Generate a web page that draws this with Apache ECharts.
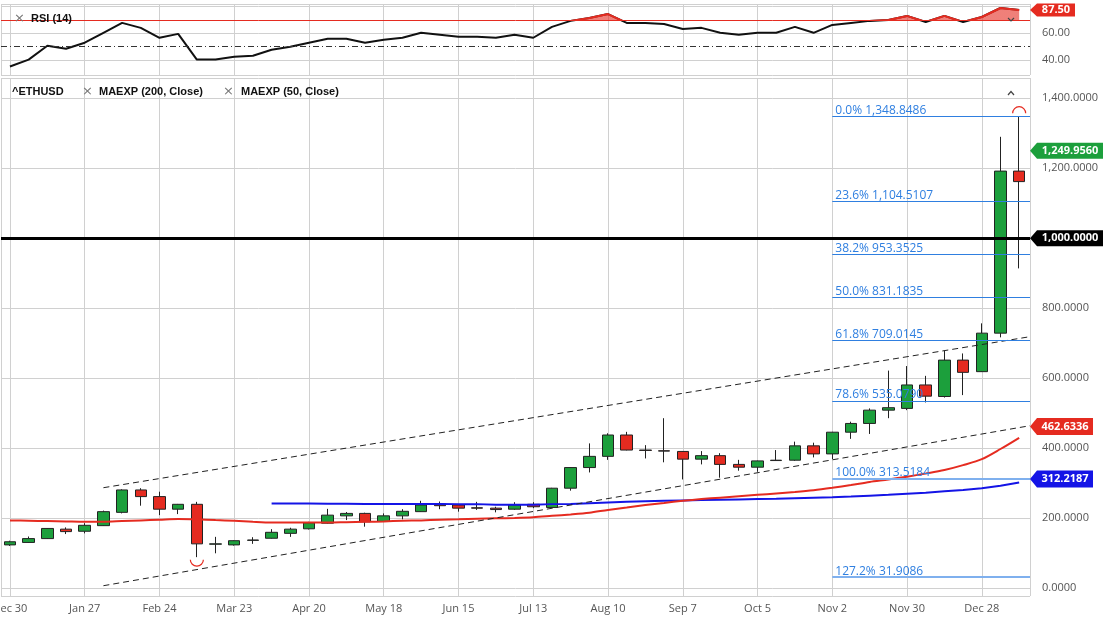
<!DOCTYPE html>
<html>
<head>
<meta charset="utf-8">
<script src="https://cdn.jsdelivr.net/npm/echarts@6/dist/echarts.min.js"></script>
<style>
  html, body { margin: 0; padding: 0; background: #fff; }
  #chart { width: 1107px; height: 627px; }
</style>
</head>
<body>
<div id="chart"></div>
<script>
// weekly ETH candles, Dec 30 2019 .. Jan 11 2021
var weeks = ['Dec 30', 'Jan 6', 'Jan 13', 'Jan 20', 'Jan 27', 'Feb 3', 'Feb 10', 'Feb 17', 'Feb 24', 'Mar 2',
  'Mar 9', 'Mar 16', 'Mar 23', 'Mar 30', 'Apr 6', 'Apr 13', 'Apr 20', 'Apr 27', 'May 4', 'May 11',
  'May 18', 'May 25', 'Jun 1', 'Jun 8', 'Jun 15', 'Jun 22', 'Jun 29', 'Jul 6', 'Jul 13', 'Jul 20',
  'Jul 27', 'Aug 3', 'Aug 10', 'Aug 17', 'Aug 24', 'Aug 31', 'Sep 7', 'Sep 14', 'Sep 21', 'Sep 28',
  'Oct 5', 'Oct 12', 'Oct 19', 'Oct 26', 'Nov 2', 'Nov 9', 'Nov 16', 'Nov 23', 'Nov 30', 'Dec 7',
  'Dec 14', 'Dec 21', 'Dec 28', 'Jan 4', 'Jan 11'];

var openPrices = [124, 131, 142, 169, 163, 179, 217, 281, 262, 226,
  240, 126, 124, 137, 143, 157, 170, 186, 207, 214,
  191, 207, 219, 241, 238, 230, 229, 226, 240, 231,
  286, 345, 377, 438, 395, 393, 391, 369, 379, 354,
  346, 365, 366, 407, 384, 446, 471, 509, 514, 581,
  548, 652, 619, 729, 1192];
var closePrices = [133, 142, 171, 162, 180, 219, 281, 262, 226, 240,
  127, 127, 136, 138, 160, 169, 187, 209, 214, 190,
  207, 220, 238, 236, 229, 229, 225, 238, 233, 286,
  345, 377, 438, 395, 394, 392, 369, 379, 354, 346,
  364, 366, 407, 384, 446, 471, 509, 516, 581, 549,
  652, 617, 729, 1192, 1162];
var lowPrices = [121, 130, 141, 155, 157, 178, 214, 236, 209, 212,
  89, 100, 122, 127, 142, 147, 168, 185, 195, 176,
  190, 197, 218, 226, 219, 224, 217, 224, 229, 230,
  279, 331, 367, 394, 371, 360, 311, 354, 316, 336,
  333, 364, 364, 374, 369, 427, 441, 486, 509, 531,
  545, 552, 618, 717, 914];
var highPrices = [136, 148, 172, 174, 186, 222, 283, 286, 276, 241,
  247, 147, 137, 146, 169, 173, 190, 227, 218, 216,
  214, 226, 250, 248, 239, 247, 233, 246, 246, 287,
  346, 414, 443, 447, 409, 486, 392, 392, 386, 367,
  365, 395, 419, 416, 447, 476, 514, 622, 635, 607,
  679, 671, 757, 1290, 1348.85];

var rsiValues = [35.2, 40.4, 50.7, 48.5, 53.0, 60.4, 67.8, 64.1, 56.7, 59.6,
  40.4, 40.4, 42.6, 43.3, 47.8, 50.0, 53.0, 55.9, 55.9, 53.0,
  55.2, 56.7, 60.4, 58.9, 57.4, 57.4, 56.7, 58.9, 56.7, 64.8,
  69.3, 71.5, 74.4, 67.8, 67.8, 67.0, 63.3, 64.1, 60.4, 58.9,
  60.4, 60.4, 64.8, 60.4, 66.3, 67.8, 69.3, 70.0, 73.0, 68.5,
  73.0, 68.5, 72.2, 78.9, 77.4];

var ema50 = [194, 193, 192, 191, 190, 190, 192, 194, 196, 198,
  197, 195, 193, 190, 188, 188, 188, 188, 189, 190,
  191, 193, 194, 196, 197, 199, 200, 201, 203, 207,
  211, 216, 224, 231, 238, 244, 250, 255, 259, 263,
  267, 271, 275, 280, 287, 295, 304, 311, 319, 328,
  338, 352, 369, 398, 430];

var ema200Start = 14;
var ema200 = [242, 242, 242, 241.5, 241.5, 241, 241, 241, 241, 241,
  240.5, 240.5, 239, 239, 239, 240.5, 241, 243, 245, 247,
  248.5, 250, 251, 252, 253, 254, 255, 256, 257.5, 259,
  260, 262, 264.5, 267, 270, 273, 277, 281, 286, 293, 302];

// trend channel: value at start week and at right edge
var channelStart = 5;
var upperChannel = [287.4, 718.9];
var lowerChannel = [7.4, 464.6];

var fibStart = 44;
var fibLevels = ['0.0%', '23.6%', '38.2%', '50.0%', '61.8%', '78.6%', '100.0%', '127.2%'];
var fibPrices = [1348.8486, 1104.5107, 953.3525, 831.1835, 709.0145, 535.0790, 313.5184, 31.9086];

var roundLevel = 1000;
var lastPrice = 1249.9560;
var ma50Tag = 462.6336;
var ma200Tag = 312.2187;
var rsiTag = 87.50;

var xMin = -0.48, xMax = 54.58;
var GREEN = '#1c9f3c', RED = '#e52b20', BLUE = '#1414e6', FIB = '#2f7fe0';

function fmt4(v) {
  return v.toLocaleString('en-US', { minimumFractionDigits: 4, maximumFractionDigits: 4 });
}

var candles = weeks.map(function (w, i) {
  return [i, openPrices[i], closePrices[i], lowPrices[i], highPrices[i]];
});

var fibLines = fibPrices.map(function (p, k) {
  var thick = k >= 6;
  return [
    { name: fibLevels[k] + ' ' + fmt4(p), coord: [fibStart, p],
      lineStyle: { color: thick ? '#7fb0ee' : FIB, width: thick ? 2 : 1, type: 'solid' } },
    { coord: [xMax, p] }
  ];
});
fibLines.push({ yAxis: roundLevel, label: { show: false },
  lineStyle: { color: '#000', width: 3, type: 'solid' } });

var gridLine = { show: true, lineStyle: { color: '#d0d0d0', width: 1 }, showMinLine: true, showMaxLine: true };

function xAxisFor(gi, labels) {
  return {
    type: 'value', gridIndex: gi, min: xMin, max: xMax,
    minInterval: 4, maxInterval: 4, splitNumber: 14,
    axisLine: { show: false, onZero: false },
    axisTick: { show: false },
    splitLine: gridLine,
    axisLabel: {
      show: labels, color: '#555', fontSize: 11, fontFamily: 'Open Sans', margin: 7,
      showMinLabel: false, showMaxLabel: false,
      formatter: function (v) { return Number.isInteger(v) && weeks[v] ? weeks[v] : ''; }
    }
  };
}

var chart = echarts.init(document.getElementById('chart'));
chart.setOption({
  animation: false,
  backgroundColor: '#fff',
  textStyle: { fontFamily: 'Open Sans' },
  grid: [
    { left: 1, right: 77, top: 4, height: 71, outerBoundsMode: 'none' },
    { left: 1, right: 77, top: 78, height: 518, outerBoundsMode: 'none' }
  ],
  xAxis: [xAxisFor(0, false), xAxisFor(1, true)],
  yAxis: [
    {
      type: 'value', gridIndex: 0, position: 'right', min: 28.9, max: 81.9,
      minInterval: 20, maxInterval: 20, splitNumber: 3,
      axisLine: { show: false, onZero: false }, axisTick: { show: false },
      splitLine: gridLine,
      axisLabel: {
        color: '#555', fontSize: 11, margin: 12, showMinLabel: false, showMaxLabel: false,
        formatter: function (v) { return v >= 80 ? '' : v.toFixed(2); }
      }
    },
    {
      type: 'value', gridIndex: 1, position: 'right', min: -22, max: 1458,
      minInterval: 200, maxInterval: 200, splitNumber: 7,
      axisLine: { show: false, onZero: false }, axisTick: { show: false },
      splitLine: gridLine,
      axisLabel: {
        color: '#555', fontSize: 11, margin: 12, showMinLabel: false, showMaxLabel: false,
        formatter: function (v) { return fmt4(v); }
      }
    }
  ],
  visualMap: {
    type: 'piecewise', show: false, seriesIndex: 6, dimension: 1,
    pieces: [{ gt: 70, lte: 100, color: RED }, { gte: 0, lte: 70, color: 'rgba(229,43,32,0)' }]
  },
  series: [
    {
      type: 'candlestick', xAxisIndex: 1, yAxisIndex: 1, barWidth: 12,
      data: candles,
      itemStyle: { color: GREEN, color0: RED, borderColor: '#222', borderColor0: '#222', borderWidth: 1 },
      markLine: {
        silent: true, symbol: ['none', 'none'],
        label: { show: true, position: 'insideStartTop', formatter: '{b}', color: FIB,
          fontSize: 12, fontFamily: 'Open Sans', distance: [3, 0] },
        data: fibLines
      }
    },
    {
      type: 'line', xAxisIndex: 1, yAxisIndex: 1, symbol: 'none', z: 3,
      data: ema200.map(function (v, k) { return [ema200Start + k, v]; }),
      lineStyle: { color: BLUE, width: 2 }
    },
    {
      type: 'line', xAxisIndex: 1, yAxisIndex: 1, symbol: 'none', smooth: 0.3, z: 3,
      data: ema50.map(function (v, i) { return [i, v]; }),
      lineStyle: { color: RED, width: 2 }
    },
    {
      type: 'line', xAxisIndex: 1, yAxisIndex: 1, symbol: 'none', z: 4,
      data: [[channelStart, upperChannel[0]], [xMax, upperChannel[1]]],
      lineStyle: { color: '#222', width: 1, type: [6, 4] }
    },
    {
      type: 'line', xAxisIndex: 1, yAxisIndex: 1, symbol: 'none', z: 4,
      data: [[channelStart, lowerChannel[0]], [xMax, lowerChannel[1]]],
      lineStyle: { color: '#222', width: 1, type: [6, 4] }
    },
    {
      type: 'line', xAxisIndex: 0, yAxisIndex: 0, symbol: 'none', z: 3,
      data: rsiValues.map(function (v, i) { return [i, v]; }),
      lineStyle: { color: '#111', width: 2 },
      markLine: {
        silent: true, symbol: ['none', 'none'], label: { show: false },
        data: [
          { yAxis: 70, lineStyle: { color: RED, width: 1, type: 'solid' } },
          { yAxis: 50, lineStyle: { color: '#333', width: 1, type: [6, 3, 1, 3] } }
        ]
      }
    },
    {
      type: 'line', xAxisIndex: 0, yAxisIndex: 0, symbol: 'none', z: 4,
      data: rsiValues.map(function (v, i) { return [i, v]; }),
      lineStyle: { width: 2 },
      areaStyle: { origin: 70, opacity: 0.6 }
    }
  ]
});

// overlay: header texts, price tags, swing markers
function tag(x0, y, w, h, text, color) {
  return [
    { type: 'polygon', z: 100, shape: { points: [[x0, y], [x0 + 7, y - h / 2], [x0 + w, y - h / 2], [x0 + w, y + h / 2], [x0 + 7, y + h / 2]] },
      style: { fill: color } },
    { type: 'text', z: 101, x: x0 + 7 + (w - 7) / 2, y: y,
      style: { text: text, fill: '#fff', font: 'bold 11px "Open Sans"', textAlign: 'center', textVerticalAlign: 'middle' } }
  ];
}
function hdr(x, y, text, bold) {
  return { type: 'text', z: 100, x: x, y: y,
    style: { text: text, fill: bold ? '#111' : '#777', font: (bold ? 'bold 11px "Liberation Sans"' : '13px "DejaVu Sans"'),
      textAlign: 'left', textVerticalAlign: 'middle' } };
}
function py(gi, v) { return chart.convertToPixel({ gridIndex: gi }, [0, v])[1]; }
function pt(i, v) { return chart.convertToPixel({ gridIndex: 1 }, [i, v]); }

var g = [];
g.push(hdr(14, 18.5, '×', false), hdr(31, 18.5, 'RSI (14)', true));
g.push(hdr(12, 91.5, '^ETHUSD', true), hdr(82, 91.5, '×', false), hdr(99, 91.5, 'MAEXP (200, Close)', true),
  hdr(223, 91.5, '×', false), hdr(241, 91.5, 'MAEXP (50, Close)', true));
g.push({ type: 'polyline', z: 100, shape: { points: [[1008, 18], [1011, 21], [1014, 18]] }, style: { stroke: '#444', lineWidth: 1.2, fill: null } });
g.push({ type: 'polyline', z: 100, shape: { points: [[1008, 95], [1011, 91.5], [1014, 95]] }, style: { stroke: '#444', lineWidth: 1.2, fill: null } });

var rsiY = Math.max(py(0, rsiTag), 4 + 6);
g = g.concat(tag(1030, rsiY, 45, 13, rsiTag.toFixed(2), RED));
g = g.concat(tag(1030, py(1, lastPrice), 73, 16, fmt4(lastPrice), GREEN));
g = g.concat(tag(1030, py(1, roundLevel), 73, 16, fmt4(roundLevel), '#000'));
g = g.concat(tag(1030, py(1, ma50Tag), 63, 17, fmt4(ma50Tag), RED));
g = g.concat(tag(1030, py(1, ma200Tag), 63, 17, fmt4(ma200Tag), BLUE));

// swing low / swing high arcs
var lowIdx = lowPrices.indexOf(Math.min.apply(null, lowPrices));
var highIdx = highPrices.indexOf(Math.max.apply(null, highPrices));
var pl = pt(lowIdx, lowPrices[lowIdx]);
var ph = pt(highIdx, highPrices[highIdx]);
g.push({ type: 'arc', z: 100, shape: { cx: pl[0], cy: pl[1] + 2.5, r: 6.5, startAngle: 0, endAngle: Math.PI, clockwise: true },
  style: { stroke: RED, lineWidth: 1.2, fill: null } });
g.push({ type: 'arc', z: 100, shape: { cx: ph[0], cy: ph[1] - 3, r: 6.5, startAngle: Math.PI, endAngle: Math.PI * 2, clockwise: true },
  style: { stroke: RED, lineWidth: 1.2, fill: null } });

chart.setOption({ graphic: g });
</script>
</body>
</html>
